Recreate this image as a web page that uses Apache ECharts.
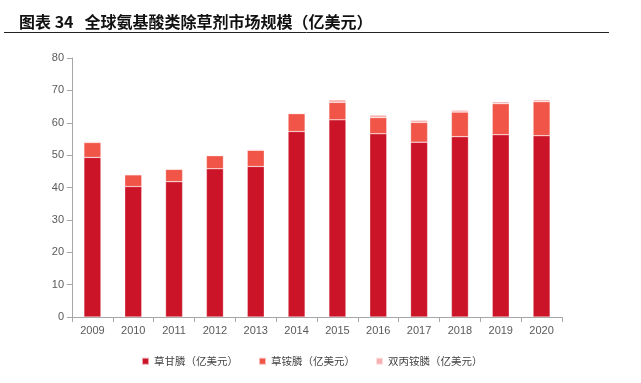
<!DOCTYPE html>
<html><head><meta charset="utf-8">
<script src="https://cdn.jsdelivr.net/npm/echarts@6/dist/echarts.min.js"></script>
<style>html,body{margin:0;padding:0;background:#fff}#c{width:641px;height:383px}</style>
</head><body><div id="c"></div>
<script>
const categories = ['2009','2010','2011','2012','2013','2014','2015','2016','2017','2018','2019','2020'];
const glyphosate = [49.3,40.3,41.8,45.8,46.5,57.3,60.9,56.6,54.0,55.7,56.3,56.0];
const glufosinate = [4.6,3.6,3.8,4.0,5.0,5.5,5.4,5.0,6.1,7.6,9.6,10.5];
const bialaphos = [0.3,0.2,0.2,0.2,0.2,0.2,0.8,0.8,0.7,0.6,0.6,0.6];
const seriesNames = ['草甘膦（亿美元）','草铵膦（亿美元）','双丙铵膦（亿美元）'];
const yTicks = [0,10,20,30,40,50,60,70,80];

const chart = echarts.init(document.getElementById('c'));
const barStyle = c => ({color:c, borderColor:'rgba(255,255,255,0.6)', borderWidth:0.5});
chart.setOption({
  animation:false,
  title:{text:'{a|图表 34}{b|全球氨基酸类除草剂市场规模（亿美元）}', left:14, top:9,
    textStyle:{rich:{
      a:{fontFamily:'Noto Sans CJK SC', fontWeight:'bold', fontSize:16, color:'#111'},
      b:{fontFamily:'Noto Sans CJK SC', fontWeight:'bold', fontSize:16, color:'#111', padding:[0,0,0,11]}
    }}},
  graphic:[{type:'line', shape:{x1:4,y1:32.5,x2:609,y2:32.5}, style:{stroke:'#222', lineWidth:1}}],
  legend:{top:351, left:136, itemWidth:7, itemHeight:7, itemGap:20, icon:'rect',
    textStyle:{fontFamily:'Noto Sans CJK SC', fontSize:10.5, color:'#444'}, data:seriesNames},
  grid:{left:72, right:79, top:58, bottom:66},
  xAxis:{type:'category', data:categories,
    axisLine:{lineStyle:{color:'#a6a6a6'}},
    axisTick:{show:true, length:5, lineStyle:{color:'#a6a6a6'}},
    axisLabel:{fontFamily:'Liberation Sans, Arial', fontSize:11, color:'#595959', margin:8}},
  yAxis:{type:'value', min:yTicks[0], max:yTicks[yTicks.length-1], interval:10,
    splitLine:{show:false},
    axisLine:{show:true, lineStyle:{color:'#a6a6a6'}},
    axisTick:{show:true, length:5, lineStyle:{color:'#a6a6a6'}},
    axisLabel:{fontFamily:'Liberation Sans, Arial', fontSize:11, color:'#595959', margin:8}},
  series:[
    {name:seriesNames[0], type:'bar', stack:'a', barWidth:17, data:glyphosate, itemStyle:barStyle('#cc1428')},
    {name:seriesNames[1], type:'bar', stack:'a', data:glufosinate, itemStyle:barStyle('#f05548')},
    {name:seriesNames[2], type:'bar', stack:'a', data:bialaphos, itemStyle:barStyle('#f9b0b0')}
  ]
});
</script></body></html>
